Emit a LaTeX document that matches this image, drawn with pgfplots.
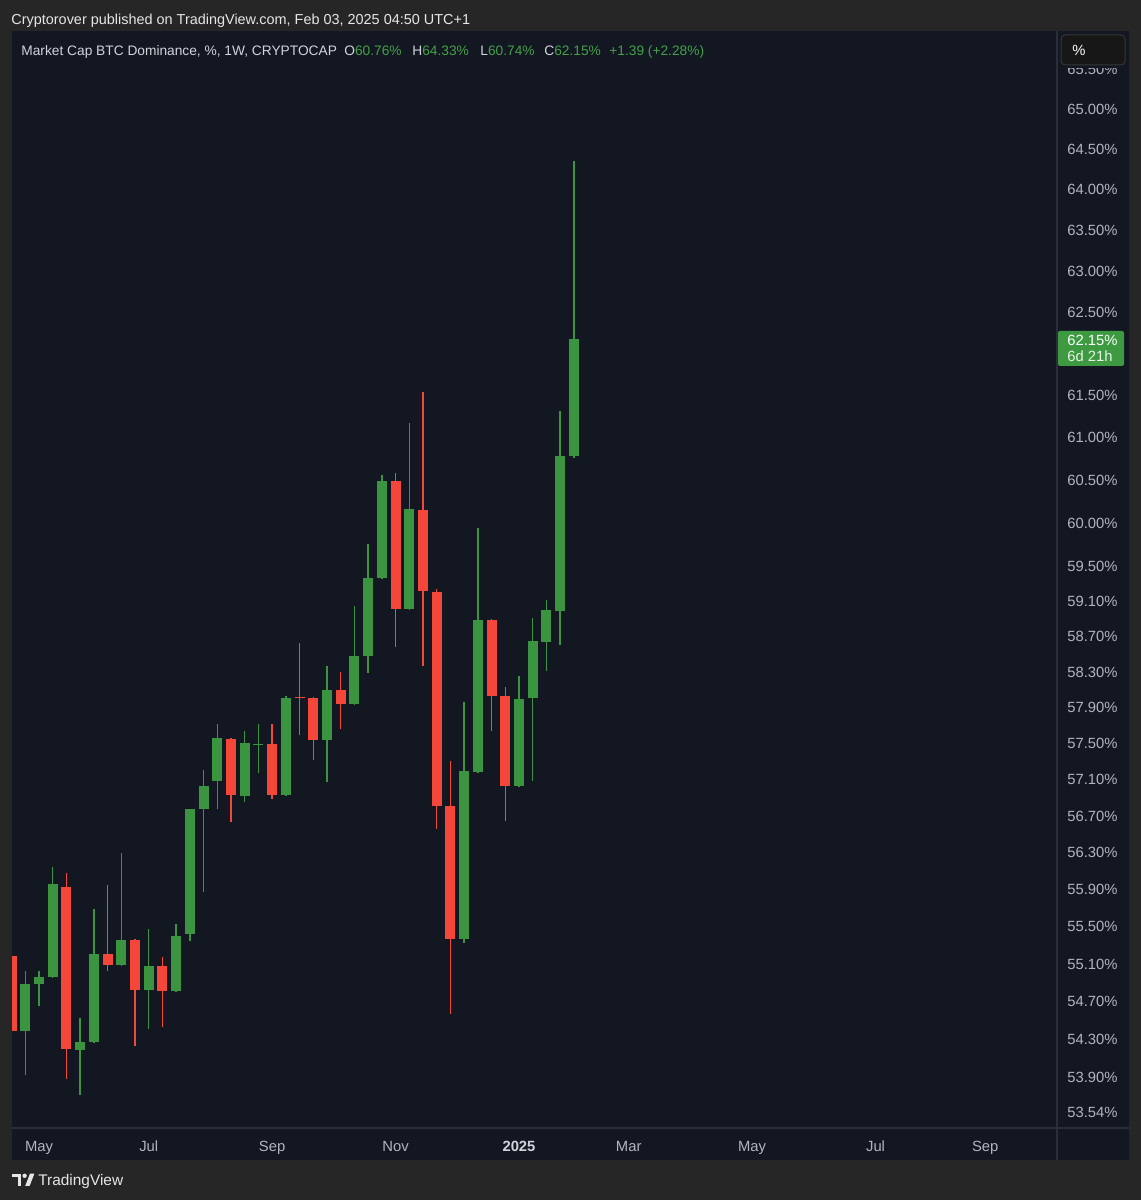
\documentclass[border=0pt]{standalone}
\usepackage{fontspec}
\setmainfont{Liberation Sans}
\usepackage{pgfplots}
\pgfplotsset{compat=1.18}
\definecolor{outerbg}{HTML}{262626}
\definecolor{panel}{HTML}{131722}
\definecolor{sep}{HTML}{2A2E39}
\definecolor{cgreen}{HTML}{3A9440}
\definecolor{cred}{HTML}{F4473A}
\definecolor{tgreen}{HTML}{43A047}
\definecolor{axtext}{HTML}{B2B5BE}
\definecolor{legtext}{HTML}{D1D4DC}
\definecolor{hdrtext}{HTML}{E6E6E6}
\definecolor{boxbg}{HTML}{171717}
\definecolor{boxbd}{HTML}{363636}
\definecolor{lblgreen}{HTML}{3D9A41}
\begin{document}
\begin{tikzpicture}[x=1pt,y=1pt]
\fill[outerbg] (0,0) rectangle (570.5,600);
\fill[panel] (6,20) rectangle (564.5,584.5);
\begin{axis}[
  at={(6pt,36pt)}, anchor=south west, scale only axis,
  width=522.5pt, height=548.5pt,
  xmin=0.031, xmax=76.23,
  ymode=log, ymin=53.364, ymax=65.975,
  axis line style={draw=none}, major tick length=0pt, tick style={draw=none},
  ytick={53.54,53.9,54.3,54.7,55.1,55.5,55.9,56.3,56.7,57.1,57.5,57.9,58.3,58.7,59.1,59.5,60,60.5,61,61.5,62.5,63,63.5,64,64.5,65,65.5},
  yticklabels={53.54\%,53.90\%,54.30\%,54.70\%,55.10\%,55.50\%,55.90\%,56.30\%,56.70\%,57.10\%,57.50\%,57.90\%,58.30\%,58.70\%,59.10\%,59.50\%,60.00\%,60.50\%,61.00\%,61.50\%,62.50\%,63.00\%,63.50\%,64.00\%,64.50\%,65.00\%,65.50\%},
  yticklabel pos=right,
  yticklabel style={anchor=base west, inner sep=0pt, xshift=5pt, yshift=-3.5pt, font=\fontsize{7.4}{8}\selectfont, text=axtext},
  xtick={2,10,19,28,37,45,54,63,71},
  xticklabels={May,Jul,Sep,Nov,{\bfseries\color{legtext}2025},Mar,May,Jul,Sep},
  xticklabel style={anchor=base, inner sep=0pt, yshift=-12pt, font=\fontsize{7.4}{8}\selectfont, text=axtext},
]
% green wicks
\addplot[cgreen, line width=0.65pt, mark=none, unbounded coords=jump] coordinates {
(1,53.91) (1,55.00) (1,nan)
(2,54.63) (2,55.00) (2,nan)
(3,54.93) (3,56.12) (3,nan)
(5,53.70) (5,54.51) (5,nan)
(6,54.25) (6,55.67) (6,nan)
(8,55.06) (8,56.28) (8,nan)
(10,54.39) (10,55.45) (10,nan)
(12,54.78) (12,55.51) (12,nan)
(13,55.32) (13,56.76) (13,nan)
(14,55.85) (14,57.18) (14,nan)
(15,56.75) (15,57.70) (15,nan)
(17,56.83) (17,57.62) (17,nan)
(18,57.15) (18,57.70) (18,nan)
(20,56.90) (20,58.01) (20,nan)
(23,57.05) (23,58.34) (23,nan)
(25,57.91) (25,59.03) (25,nan)
(26,58.27) (26,59.74) (26,nan)
(27,59.34) (27,60.54) (27,nan)
(29,58.98) (29,61.15) (29,nan)
(33,55.30) (33,57.94) (33,nan)
(34,57.15) (34,59.92) (34,nan)
(37,57.00) (37,58.24) (37,nan)
(38,57.06) (38,58.89) (38,nan)
(39,58.29) (39,59.10) (39,nan)
(40,58.59) (40,61.30) (40,nan)
(41,60.74) (41,64.33)
};
% red wicks
\addplot[cred, line width=0.65pt, mark=none, unbounded coords=jump] coordinates {
(0,54.18) (0,55.29) (0,nan)
(4,53.87) (4,56.06) (4,nan)
(7,55.01) (7,55.93) (7,nan)
(9,54.21) (9,55.35) (9,nan)
(11,54.41) (11,55.15) (11,nan)
(16,56.61) (16,57.54) (16,nan)
(19,56.87) (19,57.69) (19,nan)
(21,57.57) (21,58.60) (21,nan)
(22,57.30) (22,58.00) (22,nan)
(24,57.64) (24,58.28) (24,nan)
(28,58.56) (28,60.57) (28,nan)
(30,58.34) (30,61.52) (30,nan)
(31,56.54) (31,59.22) (31,nan)
(32,54.55) (32,57.28) (32,nan)
(35,57.62) (35,58.88) (35,nan)
(36,56.62) (36,58.11)
};
% green bodies (open, close)
\addplot[cgreen, line width=5pt, line cap=butt, mark=none, unbounded coords=jump] coordinates {
(1,54.37) (1,54.87) (1,nan)
(2,54.87) (2,54.94) (2,nan)
(3,54.94) (3,55.94) (3,nan)
(5,54.17) (5,54.26) (5,nan)
(6,54.26) (6,55.18) (6,nan)
(8,55.07) (8,55.34) (8,nan)
(10,54.80) (10,55.06) (10,nan)
(12,54.79) (12,55.38) (12,nan)
(13,55.40) (13,56.75) (13,nan)
(14,56.75) (14,57.01) (14,nan)
(15,57.06) (15,57.54) (15,nan)
(17,56.90) (17,57.48) (17,nan)
(18,57.46) (18,57.47) (18,nan)
(20,56.91) (20,57.99) (20,nan)
(23,57.52) (23,58.07) (23,nan)
(25,57.92) (25,58.46) (25,nan)
(26,58.46) (26,59.35) (26,nan)
(27,59.35) (27,60.47) (27,nan)
(29,58.99) (29,60.14) (29,nan)
(33,55.35) (33,57.17) (33,nan)
(34,57.16) (34,58.87) (34,nan)
(37,57.01) (37,57.98) (37,nan)
(38,57.99) (38,58.63) (38,nan)
(39,58.62) (39,58.98) (39,nan)
(40,58.97) (40,60.76) (40,nan)
(41,60.76) (41,62.15)
};
% red bodies (open, close)
\addplot[cred, line width=5pt, line cap=butt, mark=none, unbounded coords=jump] coordinates {
(0,55.17) (0,54.37) (0,nan)
(4,55.91) (4,54.18) (4,nan)
(7,55.18) (7,55.07) (7,nan)
(9,55.34) (9,54.80) (9,nan)
(11,55.06) (11,54.79) (11,nan)
(16,57.53) (16,56.91) (16,nan)
(19,57.47) (19,56.91) (19,nan)
(21,58.00) (21,57.99) (21,nan)
(22,57.99) (22,57.52) (22,nan)
(24,58.07) (24,57.92) (24,nan)
(28,60.47) (28,58.99) (28,nan)
(30,60.13) (30,59.20) (30,nan)
(31,59.19) (31,56.79) (31,nan)
(32,56.79) (32,55.35) (32,nan)
(35,58.87) (35,58.01) (35,nan)
(36,58.01) (36,57.01)
};
\end{axis}
% separators
\draw[sep, line width=0.6pt] (528.5,20) -- (528.5,584.5);
\draw[sep, line width=0.6pt] (6,36) -- (564.5,36);
% header
\node[anchor=base west, inner sep=0pt, text=hdrtext, font=\fontsize{7.22}{8}\selectfont] at (5.5,587.5) {Cryptorover published on TradingView.com, Feb 03, 2025 04:50 UTC+1};
% legend
\begin{scope}[every node/.style={anchor=base west, inner sep=0pt, font=\fontsize{6.87}{8}\selectfont, text=legtext}]
\node at (10.5,572) {Market Cap BTC Dominance, \%, 1W, CRYPTOCAP};
\node at (172,572) {O\textcolor{tgreen}{60.76\%}};
\node at (206,572) {H\textcolor{tgreen}{64.33\%}};
\node at (240,572) {L\textcolor{tgreen}{60.74\%}};
\node at (272,572) {C\textcolor{tgreen}{62.15\%}};
\node at (304.5,572) {\textcolor{tgreen}{+1.39 (+2.28\%)}};
\end{scope}
% cover top of the price scale, then the percent button
\fill[panel] (529,566.2) rectangle (564.5,584.2);
\filldraw[fill=boxbg, draw=boxbd, line width=0.5pt, rounded corners=2pt] (530.5,567.5) rectangle (562.5,582.5);
\node[anchor=base west, inner sep=0pt, text=white, font=\fontsize{7.4}{8}\selectfont] at (536,572.3) {\%};
% last price label
\fill[lblgreen, rounded corners=1pt] (529,417) rectangle (562,434.5);
\node[anchor=base west, inner sep=0pt, text=white, font=\fontsize{7.4}{8}\selectfont] at (533.5,427.0) {62.15\%};
\node[anchor=base west, inner sep=0pt, text=white!88!lblgreen, font=\fontsize{7.4}{8}\selectfont] at (533.5,419.3) {6d 21h};
% TradingView logo
\fill[hdrtext] (6,11.3) rectangle (10.6,13.2);
\fill[hdrtext] (8.8,7) rectangle (10.6,13.2);
\fill[hdrtext] (12.3,12.1) circle (1.1);
\fill[hdrtext] (12.6,7) -- (14.8,7) -- (17.2,13.2) -- (15,13.2) -- cycle;
\node[anchor=base west, inner sep=0pt, text=hdrtext, font=\fontsize{7.7}{9}\selectfont] at (19,7.2) {TradingView};
\pgfresetboundingbox
\useasboundingbox (0,0) rectangle (570.5,600);
\end{tikzpicture}
\end{document}
